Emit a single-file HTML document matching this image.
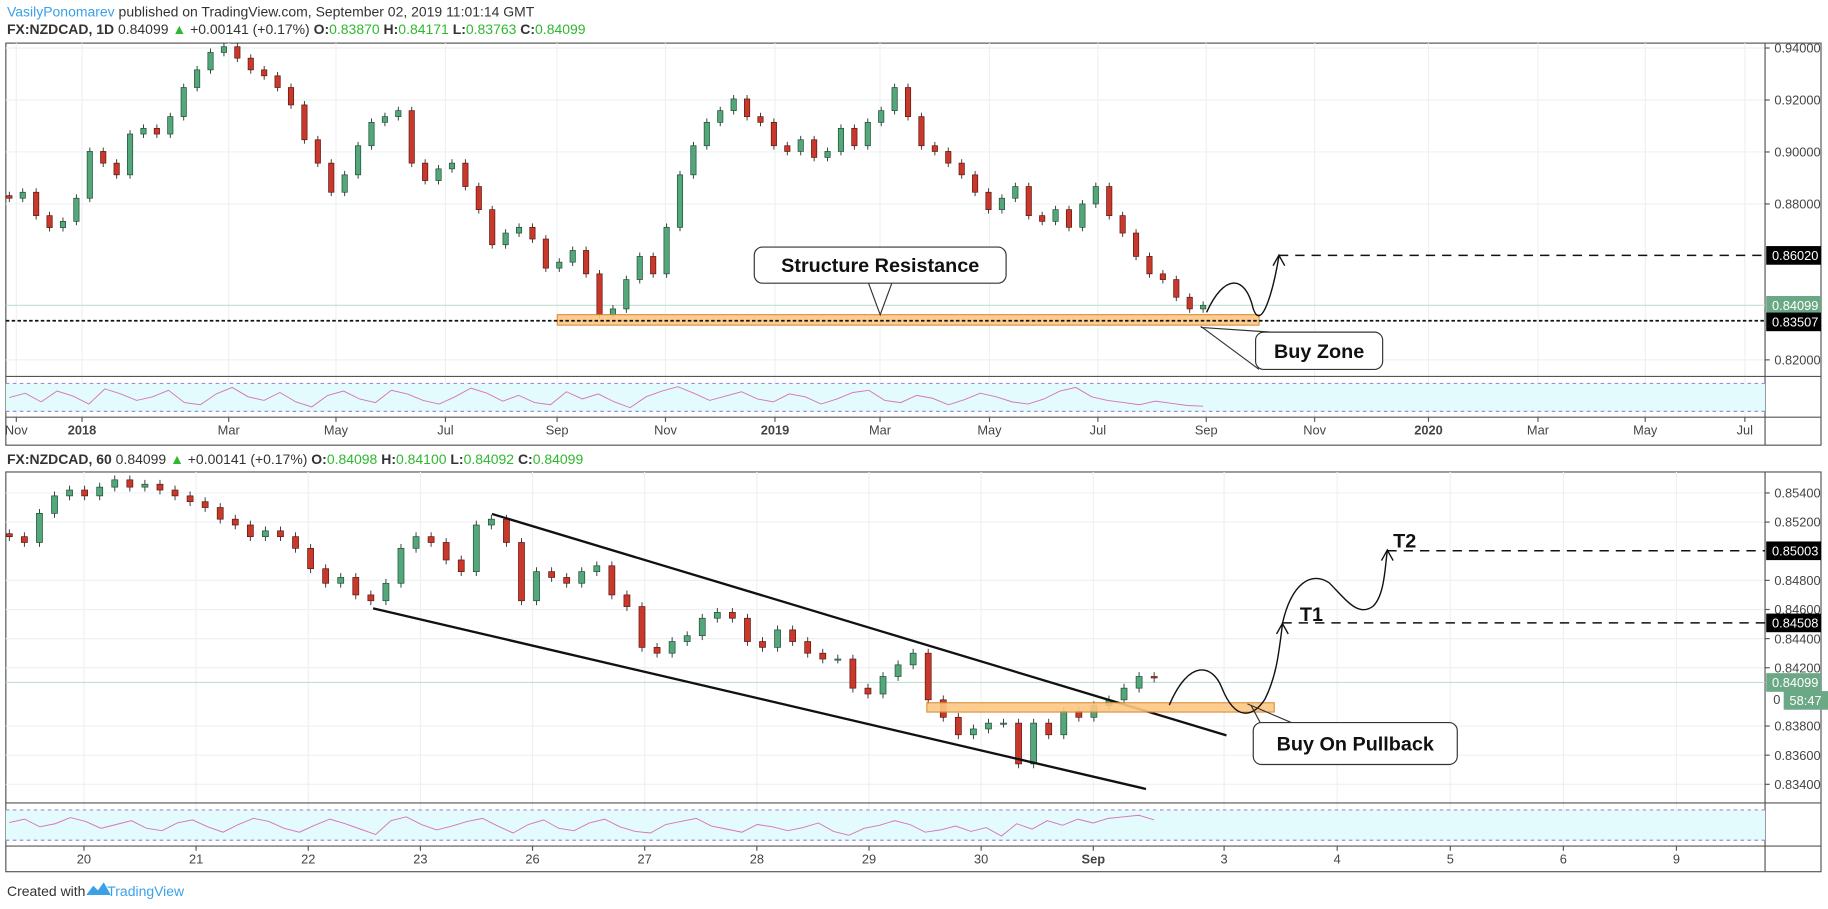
<!DOCTYPE html>
<html><head><meta charset="utf-8"><style>
html,body{margin:0;padding:0;background:#fff;width:1828px;height:909px;overflow:hidden}
svg text{font-family:"Liberation Sans","DejaVu Sans",sans-serif}
</style></head><body>
<svg id="root" width="1828" height="909" viewBox="0 0 1568 780" preserveAspectRatio="none" xmlns="http://www.w3.org/2000/svg">
<rect x="0" y="0" width="1568" height="780" fill="#fff"/>
<g>
<text x="6" y="14" font-size="12" fill="#333"><tspan fill="#3aa0e8">VasilyPonomarev</tspan> published on TradingView.com, September 02, 2019 11:01:14 GMT</text>
<text x="6" y="29" font-size="12" fill="#333"><tspan font-weight="bold">FX:NZDCAD, 1D</tspan>  0.84099 <tspan fill="#2eb82e">▲</tspan> +0.00141 (+0.17%) <tspan font-weight="bold">O:</tspan><tspan fill="#2eb82e">0.83870</tspan> <tspan font-weight="bold">H:</tspan><tspan fill="#2eb82e">0.84171</tspan> <tspan font-weight="bold">L:</tspan><tspan fill="#2eb82e">0.83763</tspan> <tspan font-weight="bold">C:</tspan><tspan fill="#2eb82e">0.84099</tspan></text>
<text x="6" y="398" font-size="12" fill="#333"><tspan font-weight="bold">FX:NZDCAD, 60</tspan>  0.84099 <tspan fill="#2eb82e">▲</tspan> +0.00141 (+0.17%) <tspan font-weight="bold">O:</tspan><tspan fill="#2eb82e">0.84098</tspan> <tspan font-weight="bold">H:</tspan><tspan fill="#2eb82e">0.84100</tspan> <tspan font-weight="bold">L:</tspan><tspan fill="#2eb82e">0.84092</tspan> <tspan font-weight="bold">C:</tspan><tspan fill="#2eb82e">0.84099</tspan></text>
</g>
<g id="top"></g>
<g id="bot"></g>
<g>
<text x="6" y="769" font-size="12" fill="#333">Created with</text>
<path d="M74 768 l6 -8 l4 4 l5 -7 l6 11 z" fill="#3aa0e8"/>
<text x="92" y="769" font-size="12" fill="#3aa0e8">TradingView</text>
</g>
</svg>
<script>
// ---- data: daily chart closes ----
const topCloses=[0.8822,0.8845,0.8755,0.8709,0.8733,0.8822,0.9002,0.8957,0.8912,0.9069,0.9091,0.9069,0.9136,0.9248,0.9316,0.9383,0.9405,0.9361,0.9316,0.9293,0.9248,0.9181,0.9047,0.8957,0.8845,0.8912,0.9024,0.9114,0.9136,0.9159,0.8957,0.8890,0.8935,0.8957,0.8867,0.8778,0.8643,0.8688,0.8710,0.8665,0.8553,0.8576,0.8621,0.8531,0.8374,0.8396,0.8509,0.8598,0.8531,0.8710,0.8912,0.9024,0.9114,0.9159,0.9204,0.9136,0.9114,0.9024,0.9002,0.9047,0.8979,0.9002,0.9091,0.9024,0.9114,0.9159,0.9248,0.9136,0.9024,0.9002,0.8957,0.8912,0.8845,0.8778,0.8822,0.8867,0.8755,0.8733,0.8778,0.8710,0.8800,0.8867,0.8755,0.8688,0.8598,0.8531,0.8509,0.8441,0.8396,0.8410];
const topTicks=["0.94000","0.92000","0.90000","0.88000","0.82000"];
const topTickVals=[0.94,0.92,0.90,0.88,0.82];
const topTimeLabels=["Nov","2018","Mar","May","Jul","Sep","Nov","2019","Mar","May","Jul","Sep","Nov","2020","Mar","May","Jul"];
const topTimeIdx=[0,0.6,1.94,2.92,3.92,4.94,5.93,6.93,7.89,8.89,9.88,10.87,11.86,12.9,13.9,14.88,15.79];
const topRsi=[48,60,36,66,52,30,72,58,40,50,68,34,28,58,76,50,40,62,36,22,54,66,44,34,68,58,40,30,50,74,60,38,54,34,28,64,44,58,36,20,50,66,78,60,40,52,64,44,36,58,50,30,44,62,68,40,34,54,46,28,42,60,50,36,30,44,66,76,50,40,34,28,38,32,26,24];
// ---- data: hourly chart closes ----
const botCloses=[0.8510,0.8506,0.8526,0.8538,0.8542,0.8538,0.8544,0.8549,0.8544,0.8546,0.8542,0.8538,0.8534,0.8530,0.8522,0.8518,0.8510,0.8514,0.8510,0.8502,0.8488,0.8478,0.8482,0.8470,0.8466,0.8478,0.8502,0.8510,0.8506,0.8494,0.8486,0.8518,0.8522,0.8506,0.8466,0.8486,0.8482,0.8478,0.8486,0.8490,0.8470,0.8462,0.8434,0.8430,0.8438,0.8442,0.8454,0.8458,0.8454,0.8438,0.8434,0.8446,0.8438,0.8430,0.8426,0.8426,0.8406,0.8402,0.8414,0.8422,0.8430,0.8398,0.8386,0.8374,0.8378,0.8382,0.8382,0.8354,0.8382,0.8374,0.8390,0.8386,0.8394,0.8398,0.8406,0.8414,0.8413];
const botTicks=["0.85400","0.85200","0.84800","0.84600","0.84400","0.84200","0.83800","0.83600","0.83400"];
const botTickVals=[0.854,0.852,0.848,0.846,0.844,0.842,0.838,0.836,0.834];
const botTimeLabels=["20","21","22","23","26","27","28","29","30","Sep","3","4","5","6","9"];
const botRsi=[55,64,44,52,68,58,40,50,60,40,34,54,62,44,30,50,66,58,40,30,48,64,52,38,24,60,70,50,36,46,58,66,46,28,50,62,40,34,54,64,44,32,28,50,58,66,46,38,30,50,44,34,42,54,32,22,40,48,60,50,30,36,46,32,42,20,52,38,60,48,64,54,66,70,74,62];

const NS="http://www.w3.org/2000/svg";
function mk(parent,tag,attrs){const e=document.createElementNS(NS,tag);for(const k in attrs)e.setAttribute(k,attrs[k]);parent.appendChild(e);return e;}
function txt(parent,x,y,s,attrs){const t=mk(parent,'text',Object.assign({x:x,y:y},attrs));t.textContent=s;return t;}

function panel(g,cfg,closes,ticks,tickVals,tLabels,tX,rsi){
  const yS=p=>cfg.yRef+(cfg.pRef-p)*cfg.k;
  const xS=i=>cfg.x0+i*(cfg.x1-cfg.x0)/(closes.length-1);
  const fr=mk(g,'rect',{x:5,y:cfg.top,width:1557,height:cfg.bottom-cfg.top,fill:'#fff',stroke:'#555','stroke-width':1});
  
  
  tickVals.forEach((v,i)=>{const y=yS(v);
    mk(g,'line',{x1:5,x2:1514,y1:y,y2:y,stroke:'#eef0f3'});
    mk(g,'line',{x1:1514,x2:1518,y1:y,y2:y,stroke:'#555'});
    const t=txt(g,1522,y+4,ticks[i],{'font-size':11,fill:'#444'});
    
    
  });
  tLabels.forEach((s,i)=>{const x=tX(i);
    mk(g,'line',{x1:x,x2:x,y1:cfg.top,y2:cfg.axisTop,stroke:'#eef0f3'});
    mk(g,'line',{x1:x,x2:x,y1:cfg.axisTop,y2:cfg.axisTop+4,stroke:'#555'});
    const bold=(s==="2018"||s==="2019"||s==="2020"||s==="Sep"&&cfg.hourly);
    const t=txt(g,x,cfg.axisTop+15,s,{'font-size':11,fill:'#444','text-anchor':'middle','font-weight':bold?'bold':'normal'});
    
    
  });
  mk(g,'line',{x1:1514,x2:1514,y1:cfg.top,y2:cfg.bottom,stroke:'#555'});
  mk(g,'line',{x1:5,x2:1562,y1:cfg.priceBottom,y2:cfg.priceBottom,stroke:'#555'});
  mk(g,'line',{x1:5,x2:1562,y1:cfg.axisTop,y2:cfg.axisTop,stroke:'#555'});
  const rt=cfg.priceBottom+6, rb=cfg.axisTop-5;
  mk(g,'rect',{x:5,y:rt,width:1509,height:rb-rt,fill:'#e3fbfd'});
  mk(g,'line',{x1:5,x2:1514,y1:rt,y2:rt,stroke:'#9b8fd8','stroke-dasharray':'3,3'});
  mk(g,'line',{x1:5,x2:1514,y1:rb,y2:rb,stroke:'#9b8fd8','stroke-dasharray':'3,3'});
  const rY=v=>cfg.priceBottom+2+(100-v)/100*(cfg.axisTop-cfg.priceBottom-4);
  const rX=i=>cfg.x0+i*(cfg.x1-cfg.x0)/(rsi.length-1);
  const rp=mk(g,'polyline',{points:rsi.map((v,i)=>rX(i)+','+rY(v)).join(' '),fill:'none',stroke:'#d873b6','stroke-width':0.8});
  
  
  mk(g,'line',{x1:5,x2:1514,y1:yS(0.84099),y2:yS(0.84099),stroke:'#bfe0d0'});
  const w=Math.max(2.5,(cfg.x1-cfg.x0)/(closes.length-1)*0.4);
  closes.forEach((c,i)=>{
    const o=i===0?c+0.001*cfg.wick:closes[i-1];
    const up=c>=o;
    const hi=Math.max(o,c)+0.0015*cfg.wick, lo=Math.min(o,c)-0.0015*cfg.wick;
    const x=xS(i);
    mk(g,'line',{x1:x,x2:x,y1:yS(hi),y2:yS(lo),stroke:'#333','stroke-width':0.8});
    const r=mk(g,'rect',{x:x-w/2,y:yS(Math.max(o,c)),width:w,height:Math.max(1,Math.abs(yS(o)-yS(c))),fill:up?'#53a77a':'#c8392b',stroke:up?'#1f5036':'#5e1710','stroke-width':0.6});
    
    
  });
  return {xS,yS};
}

function badge(g,y,s,fill,x){
  const r=mk(g,'rect',{x:x||1515,y:y-8,width:x?42:47,height:16,fill:fill});
  
  
  txt(g,(x||1515)+5,y+4,s,{'font-size':11,fill:'#fff'});
}
function callout(g,x,y,w,h,s,px,py,bx1,bx2,name){
  mk(g,'path',{d:`M${bx1},${y+h} L${px},${py} L${bx2},${y+h}`,fill:'#fff',stroke:'#333','stroke-width':1});
  const r=mk(g,'rect',{x:x,y:y,width:w,height:h,rx:7,fill:'#fff',stroke:'#333','stroke-width':1});
  
  
  txt(g,x+w/2,y+h/2+6,s,{'font-size':17,'font-weight':'bold',fill:'#111','text-anchor':'middle'});
}
function arrowHead(g,x,y){mk(g,'path',{d:`M${x-5},${y+9} L${x},${y} L${x+5},${y+9}`,fill:'none',stroke:'#111','stroke-width':1.2});}

// ---- TOP ----
const T=document.getElementById('top');
const topCfg={top:37,bottom:382,priceBottom:323,axisTop:358,x0:8,x1:1032,yRef:175,pRef:0.88,k:2230,wick:1};
const tx=i=>14+topTimeIdx[i]*93.9;
const ta=panel(T,topCfg,topCloses,topTicks,topTickVals,topTimeLabels,tx,topRsi);
const zt=mk(T,'rect',{x:478,y:270,width:602,height:9,fill:'#fcc785',stroke:'#d88a2a','stroke-width':1,opacity:0.9});


mk(T,'line',{x1:5,x2:1514,y1:ta.yS(0.83507),y2:ta.yS(0.83507),stroke:'#111','stroke-width':1.5,'stroke-dasharray':'3,2'});
mk(T,'line',{x1:1097,x2:1514,y1:ta.yS(0.8602),y2:ta.yS(0.8602),stroke:'#111','stroke-width':1.3,'stroke-dasharray':'8,6'});
mk(T,'path',{d:'M1035,268 C1050,235 1068,235 1075,265 C1082,285 1092,250 1097,220',fill:'none',stroke:'#111','stroke-width':1.2});
arrowHead(T,1097,219);
badge(T,ta.yS(0.8602),'0.86020','#000');
badge(T,ta.yS(0.84099),'0.84099','#6aa886');
badge(T,ta.yS(0.83507)+1,'0.83507','#000');
callout(T,647,212,216,31,'Structure Resistance',755,270,745,765,'structure-resistance-callout');
mk(T,'path',{d:'M1030,281 L1090,285',stroke:'#333',fill:'none'});
callout(T,1077,285,109,32,'Buy Zone',1030,280,1080,1080,'buy-zone-callout');

// ---- BOTTOM ----
const B=document.getElementById('bot');
const botCfg={top:405,bottom:748,priceBottom:689,axisTop:726,x0:8,x1:990,yRef:548,pRef:0.844,k:12500,wick:0.2,hourly:true};
const bx=i=>i<10?72+i*96.2:1050+(i-10)*97;
const ba=panel(B,botCfg,botCloses,botTicks,botTickVals,botTimeLabels,bx,botRsi);
const ch1=mk(B,'line',{x1:422,y1:441,x2:1052,y2:631,stroke:'#111','stroke-width':2});


const ch2=mk(B,'line',{x1:320,y1:522,x2:983,y2:677,stroke:'#111','stroke-width':2});


const zb=mk(B,'rect',{x:795,y:603,width:298,height:8,fill:'#fcc785',stroke:'#d88a2a','stroke-width':1,opacity:0.9});


mk(B,'line',{x1:1100,x2:1514,y1:ba.yS(0.84508),y2:ba.yS(0.84508),stroke:'#111','stroke-width':1.3,'stroke-dasharray':'8,6'});
mk(B,'line',{x1:1190,x2:1514,y1:ba.yS(0.85003),y2:ba.yS(0.85003),stroke:'#111','stroke-width':1.3,'stroke-dasharray':'8,6'});
mk(B,'path',{d:'M1003,605 C1020,565 1040,570 1048,590 C1060,620 1075,615 1085,600 C1095,580 1097,560 1100,536',fill:'none',stroke:'#111','stroke-width':1.2});
arrowHead(B,1100,535);
mk(B,'path',{d:'M1100,535 C1108,500 1125,490 1140,500 C1155,515 1165,530 1178,520 C1188,510 1188,485 1190,473',fill:'none',stroke:'#111','stroke-width':1.2});
arrowHead(B,1190,472);
txt(B,1115,533,'T1',{'font-size':17,'font-weight':'bold',fill:'#111'});
txt(B,1195,470,'T2',{'font-size':17,'font-weight':'bold',fill:'#111'});
badge(B,ba.yS(0.85003),'0.85003','#000');
badge(B,ba.yS(0.84508),'0.84508','#000');
badge(B,ba.yS(0.84099),'0.84099','#6aa886');
txt(B,1521,604,'0',{'font-size':11,fill:'#444'});
badge(B,601,'58:47','#6aa886',1530);
mk(B,'path',{d:'M1070,604 L1110,621',stroke:'#333',fill:'none'});
callout(B,1075,620,175,36,'Buy On Pullback',1073,605,1100,1100,'buy-on-pullback-callout');
</script>
</body></html>
